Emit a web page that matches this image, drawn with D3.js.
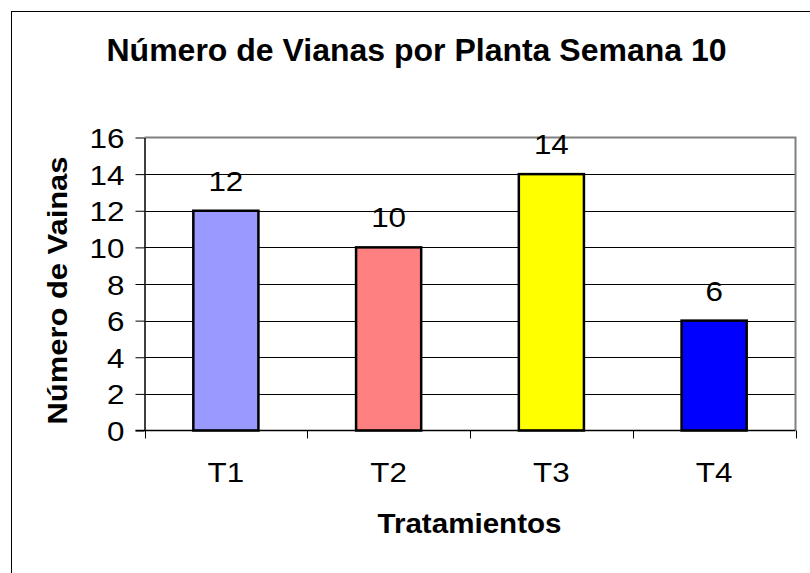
<!DOCTYPE html>
<html>
<head>
<meta charset="utf-8">
<script src="https://cdn.jsdelivr.net/npm/d3@7/dist/d3.min.js"></script>
<style>
  html, body { margin: 0; padding: 0; background: #fff; }
  svg { display: block; font-family: "Liberation Sans", Arial, sans-serif; }
</style>
</head>
<body>
<svg id="chart" width="810" height="573"></svg>
<script>
const categories = ["T1", "T2", "T3", "T4"];
const values = [12, 10, 14, 6];
const barColors = ["#9999FF", "#FF8080", "#FFFF00", "#0000FF"];
const yTicks = [0, 2, 4, 6, 8, 10, 12, 14, 16];
const titleText = "Número de Vianas por Planta Semana 10";
const yTitle = "Número de Vainas";
const xTitle = "Tratamientos";

const svg = d3.select("#chart");
const plot = { left: 144.5, right: 795.5, top: 137.5, bottom: 430.5 };
const FONT = "Liberation Sans, Arial, sans-serif";
const NUM_SIZE = 28;
const NUM_SX = 1.12;

function stretch(sel, sx) {
  sel.each(function () {
    const L = this.getComputedTextLength();
    d3.select(this).attr("textLength", L * sx).attr("lengthAdjust", "spacingAndGlyphs");
  });
}
function fitWidth(sel, w) {
  sel.attr("textLength", w).attr("lengthAdjust", "spacingAndGlyphs");
}

// outer frame (cropped on right and bottom)
svg.append("rect")
  .attr("x", 11.5).attr("y", 11.5)
  .attr("width", 830).attr("height", 600)
  .attr("fill", "#fff").attr("stroke", "#000").attr("stroke-width", 1);

const x = d3.scaleBand()
  .domain(categories)
  .range([plot.left, plot.right])
  .paddingInner(0.6)
  .paddingOuter(0.3);

const y = d3.scaleLinear().domain([0, 16]).range([plot.bottom, plot.top]);

// grid lines
svg.append("g").selectAll("line")
  .data(yTicks.filter(t => t > 0 && t < 16))
  .join("line")
  .attr("x1", plot.left).attr("x2", plot.right)
  .attr("y1", d => Math.round(y(d)) + 0.5).attr("y2", d => Math.round(y(d)) + 0.5)
  .attr("stroke", "#000").attr("stroke-width", 1);

// plot border top/right (gray)
svg.append("path")
  .attr("d", `M${plot.left},${plot.top}H${plot.right}V${plot.bottom}`)
  .attr("fill", "none").attr("stroke", "#808080").attr("stroke-width", 2);

// bars
svg.append("g").selectAll("rect")
  .data(categories)
  .join("rect")
  .attr("x", d => x(d))
  .attr("y", (d, i) => y(values[i]))
  .attr("width", x.bandwidth())
  .attr("height", (d, i) => y(0) - y(values[i]))
  .attr("fill", (d, i) => barColors[i])
  .attr("stroke", "#000").attr("stroke-width", 2.5);

// data labels
const dl = svg.append("g").selectAll("text")
  .data(categories)
  .join("text")
  .attr("x", d => x(d) + x.bandwidth() / 2)
  .attr("y", (d, i) => y(values[i]) - 20)
  .attr("text-anchor", "middle")
  .attr("font-size", NUM_SIZE)
  .attr("font-family", FONT)
  .attr("fill", "#000")
  .text((d, i) => values[i]);
stretch(dl, NUM_SX);

// y axis
const yAxis = d3.axisLeft(y).tickValues(yTicks).tickSize(9).tickPadding(11).tickSizeOuter(0);
const gy = svg.append("g").attr("transform", `translate(${plot.left},0)`).call(yAxis);
gy.select(".domain").attr("stroke", "#000").attr("stroke-width", 1.5);
gy.selectAll(".tick line").attr("stroke", "#000").attr("stroke-width", 1);
const yl = gy.selectAll(".tick text")
  .attr("font-size", NUM_SIZE).attr("fill", "#000")
  .attr("font-family", FONT)
  .attr("dy", "0.36em");
stretch(yl, NUM_SX);

// x axis line and boundary ticks
const step = x.step();
const boundaries = d3.range(categories.length + 1).map(i => plot.left + i * step);
svg.append("line")
  .attr("x1", plot.left - 9).attr("x2", plot.right)
  .attr("y1", plot.bottom).attr("y2", plot.bottom)
  .attr("stroke", "#000").attr("stroke-width", 1.5);
svg.append("g").selectAll("line")
  .data(boundaries)
  .join("line")
  .attr("x1", d => Math.round(d) + 0.5).attr("x2", d => Math.round(d) + 0.5)
  .attr("y1", plot.bottom).attr("y2", plot.bottom + 8)
  .attr("stroke", "#000").attr("stroke-width", 1);

// x tick labels
const xAxis = d3.axisBottom(x).tickSize(0).tickPadding(0);
const gx = svg.append("g").attr("transform", `translate(0,${plot.bottom})`).call(xAxis);
gx.select(".domain").remove();
const xl = gx.selectAll(".tick text")
  .attr("font-size", NUM_SIZE).attr("fill", "#000")
  .attr("font-family", FONT)
  .attr("y", 51.8).attr("dy", 0);
stretch(xl, NUM_SX);

// titles
svg.append("text")
  .attr("x", 416.5).attr("y", 60.7)
  .attr("text-anchor", "middle")
  .attr("font-size", 31.5).attr("font-weight", "bold")
  .attr("font-family", FONT)
  .text(titleText)
  .call(fitWidth, 620);

svg.append("text")
  .attr("transform", `translate(67,290.5) rotate(-90)`)
  .attr("text-anchor", "middle")
  .attr("font-size", 27).attr("font-weight", "bold")
  .attr("font-family", FONT)
  .text(yTitle)
  .call(fitWidth, 268);

svg.append("text")
  .attr("x", 469.5).attr("y", 532.7)
  .attr("text-anchor", "middle")
  .attr("font-size", 28).attr("font-weight", "bold")
  .attr("font-family", FONT)
  .text(xTitle)
  .call(fitWidth, 184);
</script>
</body>
</html>
